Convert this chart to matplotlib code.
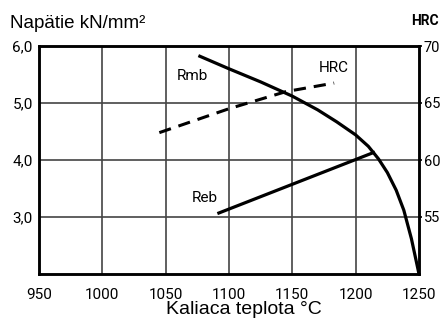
import numpy as np
import matplotlib
matplotlib.use("Agg")
import matplotlib.pyplot as plt

# Rmb (kN/mm2) vs. kaliaca teplota
rmb_t = [1077, 1100, 1125, 1150, 1170, 1185, 1200, 1210, 1218, 1225, 1232, 1238, 1244, 1250]
rmb_v = [5.82, 5.60, 5.37, 5.12, 4.88, 4.67, 4.44, 4.24, 4.02, 3.78, 3.47, 3.12, 2.62, 2.00]

# Reb (kN/mm2)
reb_t = [1092, 1214]
reb_v = [3.07, 4.13]

# HRC (prava os)
hrc_t = [1045, 1100, 1145, 1183]
hrc_v = [62.4, 64.5, 66.0, 66.75]

x_ticks = [950, 1000, 1050, 1100, 1150, 1200, 1250]
y_ticks = [3.0, 4.0, 5.0, 6.0]
y_labels = ["3,0", "4,0", "5,0", "6,0"]
hrc_ticks = [55, 60, 65, 70]

tick_font = ["Roboto", "DejaVu Sans"]
text_font = ["Liberation Sans", "DejaVu Sans"]

fig = plt.figure(figsize=(4.41, 3.24), dpi=100)
ax = fig.add_axes([39 / 441, 50 / 324, 380 / 441, 228 / 324])
ax2 = ax.twinx()

ax.set_xlim(950, 1250)
ax.set_ylim(2.0, 6.0)
ax2.set_ylim(50, 70)

for t in x_ticks[1:-1]:
    ax.axvline(t, color="#444444", lw=1.2, zorder=1)
for v in y_ticks[:-1]:
    ax.axhline(v, color="#444444", lw=1.2, zorder=1)

ax.plot(rmb_t, rmb_v, color="black", lw=2.3, zorder=3)
ax.plot(reb_t, reb_v, color="black", lw=2.3, zorder=3)
ax2.plot(hrc_t, hrc_v, color="black", lw=2.2, dashes=(4, 2.6), zorder=3)

ax.text(1071, 5.48, "Rmb", fontsize=11, family=tick_font, ha="center", va="center")
ax.text(1183, 5.62, "HRC", fontsize=11, family=tick_font, ha="center", va="center")
ax.text(1081, 3.33, "Reb", fontsize=11, family=tick_font, ha="center", va="center")

ax.set_xticks(x_ticks)
ax.set_xticklabels([str(t) for t in x_ticks], family=tick_font, fontsize=11)
ax.set_yticks(y_ticks)
ax.set_yticklabels(y_labels, family=tick_font, fontsize=11)
ax.tick_params(axis="x", length=0, pad=10)
ax.tick_params(axis="y", length=0, pad=4.5)

ax2.set_yticks(hrc_ticks)
ax2.set_yticklabels([str(h) for h in hrc_ticks], family=tick_font, fontsize=10.5)
ax2.tick_params(axis="y", length=2, width=1.2, pad=1.5)

for a in (ax, ax2):
    for s in a.spines.values():
        s.set_linewidth(1.8)

fig.text(10 / 441, 1 - 28 / 324, "Napätie kN/mm²", family=text_font, fontsize=13.5,
         ha="left", va="baseline")
fig.text(425 / 441, 1 - 21 / 324, "HRC", family=tick_font, fontsize=10,
         ha="center", va="center", weight="bold")
fig.text(244 / 441, 1 - 314 / 324, "Kaliaca teplota °C", family=text_font, fontsize=14,
         ha="center", va="baseline")

fig.savefig("out.png", dpi=100)
